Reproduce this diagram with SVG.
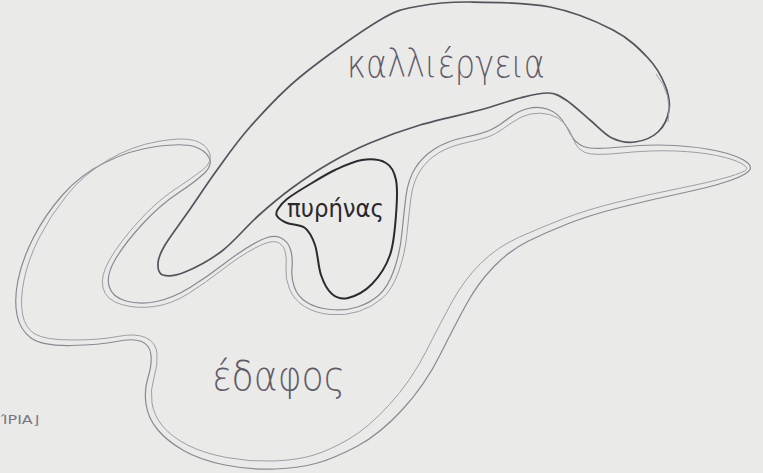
<svg xmlns="http://www.w3.org/2000/svg" width="763" height="473" viewBox="0 0 763 473">
<style>
.bg{fill:#eaeae8}
.soil{fill:none;stroke:#8c8892;stroke-width:1.2;stroke-linejoin:round}
.soil2{fill:none;stroke:#a19da6;stroke-width:1;stroke-linejoin:round}
.cult{fill:none;stroke:#57525c;stroke-width:1.7;stroke-linejoin:round}
.nuc{fill:none;stroke:#2c292f;stroke-width:2;stroke-linejoin:round}
.lbl{font-family:"DejaVu Sans","Liberation Sans",sans-serif;font-weight:200;fill:#615b68}
.nlbl{font-family:"DejaVu Sans","Liberation Sans",sans-serif;fill:#2a282c}
.hand{font-family:"DejaVu Sans","Liberation Sans",sans-serif;fill:#7a7680}
</style>
<rect class="bg" x="0" y="0" width="763" height="473"/>
<g id="soil">
<path class="soil" d="M194,146.5 Q183,143 156.5,146.5 Q130,150 105,162.5 Q80,175 62.5,195 Q45,215 33.5,237.5 Q22,260 18,280 Q14,300 17,315 Q20,330 31,338 Q42,346 71,345.5 Q100,345 116.5,341.5 Q133,338 141.5,341.5 Q150,345 151,355 Q152,365 148,377.5 Q144,390 146,404 Q148,418 157.5,429.5 Q167,441 183.5,450.5 Q200,460 225,465 Q250,470 275,469 Q300,468 317.5,463 Q335,458 357.5,446 Q380,434 402.5,409.5 Q425,385 440,355 Q455,325 466.5,304 Q478,283 494,266.5 Q510,250 528.5,241 Q547,232 568.5,223.5 Q590,215 620,207.5 Q650,200 682.5,193 Q715,186 731.5,180 Q748,174 750,169.5 Q752,165 743.5,160 Q735,155 717.5,151 Q700,147 675,145.5 Q650,144 621,147 Q592,150 583.5,146.5 Q575,143 570.5,134 Q566,125 561,118.5 Q556,112 547,109 Q538,106 528,108.5 Q518,111 509,118 Q500,125 492.5,129 Q485,133 466,137 Q447,141 434.5,149 Q422,157 415,168.5 Q408,180 406,196 Q404,212 402,232.5 Q400,253 394,270 Q388,287 379,295 Q370,303 357.5,307 Q345,311 330.5,309.5 Q316,308 307,302.5 Q298,297 294.5,287.5 Q291,278 292,268 Q293,258 290.5,249.5 Q288,241 280,237.5 Q272,234 257,242 Q242,250 224.5,263.5 Q207,277 190,287.5 Q173,298 156.5,301.5 Q140,305 126,301 Q112,297 109,286 Q106,275 115.5,259 Q125,243 142.5,224 Q160,205 177.5,193.5 Q195,182 204,173.5 Q213,165 209,157.5 Q205,150 194,146.5 Z"/>
<path class="soil2" d="M194.5,140.5 Q183,137 157.5,141.5 Q132,146 108,160 Q84,174 67,195 Q50,216 39,238 Q28,260 24,280 Q20,300 22.5,314 Q25,328 35,334 Q45,340 72.5,340 Q100,340 117.5,336.5 Q135,333 145.5,337.5 Q156,342 157,353.5 Q158,365 154,377.5 Q150,390 152,403 Q154,416 163,426.5 Q172,437 187.5,445 Q203,453 226.5,457.5 Q250,462 274,461 Q298,460 314,455 Q330,450 349,439 Q368,428 389.5,404.5 Q411,381 426,351.5 Q441,322 452.5,301 Q464,280 480.5,263.5 Q497,247 519.5,237 Q542,227 564,218.5 Q586,210 616,202.5 Q646,195 678.5,188.5 Q711,182 728,177 Q745,172 746.5,169.5 Q748,167 740.5,163 Q733,159 716.5,155.5 Q700,152 675.5,151 Q651,150 622,153 Q593,156 585,152.5 Q577,149 573.5,139.5 Q570,130 564.5,123.5 Q559,117 549.5,114.5 Q540,112 530.5,114 Q521,116 512,122.5 Q503,129 495.5,133.5 Q488,138 469,142 Q450,146 438.5,153 Q427,160 420,171 Q413,182 411,197.5 Q409,213 407,233.5 Q405,254 398.5,272 Q392,290 382,298.5 Q372,307 358.5,311.5 Q345,316 330,314.5 Q315,313 304.5,306.5 Q294,300 289.5,289 Q285,278 286,268 Q287,258 285,251 Q283,244 276.5,242 Q270,240 255,248 Q240,256 222.5,269.5 Q205,283 188.5,293.5 Q172,304 154.5,306.5 Q137,309 121.5,304.5 Q106,300 103,288 Q100,276 110,259 Q120,242 138,222 Q156,202 174,190 Q192,178 202.5,170 Q213,162 209.5,153 Q206,144 194.5,140.5 Z"/>
<text class="lbl" x="212" y="390" font-size="40" textLength="133" lengthAdjust="spacingAndGlyphs">έδαφος</text>
</g>
<g id="culture">
<path class="cult" d="M163,275 C167.5,276.5 175.2,276 185,272 C194.8,268 209.8,260.3 222,251 C234.2,241.7 246.3,226.5 258,216 C269.7,205.5 280,196.8 292,188 C304,179.2 317,170.5 330,163 C343,155.5 355,149.3 370,143 C385,136.7 401.7,130.5 420,125 C438.3,119.5 463.3,114.5 480,110 C496.7,105.5 508.7,100.8 520,98 C531.3,95.2 540.3,92.7 548,93 C555.7,93.3 559,95.5 566,100 C573,104.5 582.3,113.7 590,120 C597.7,126.3 604.5,134.3 612,138 C619.5,141.7 627.3,143 635,142 C642.7,141 652.3,137.3 658,132 C663.7,126.7 667.8,117.8 669,110 C670.2,102.2 668.5,93.7 665,85 C661.5,76.3 656.7,67.2 648,58 C639.3,48.8 629.3,38.5 613,30 C596.7,21.5 573.8,11.7 550,7 C526.2,2.3 491.7,2.2 470,2 C448.3,1.8 435,3 420,6 C405,9 400,8.2 380,20 C360,31.8 321.7,59.2 300,77 C278.3,94.8 263.8,111.5 250,127 C236.2,142.5 227.3,155.8 217,170 C206.7,184.2 196.7,199.5 188,212 C179.3,224.5 170,236.5 165,245 C160,253.5 158.3,258 158,263 C157.7,268 158.5,273.5 163,275 Z"/>
<path class="soil2" d="M656,74 Q673,94 668,122"/>
<text class="lbl" x="347" y="77" font-size="39" textLength="198" lengthAdjust="spacingAndGlyphs">καλλιέργεια</text>
</g>
<g id="nucleus">
<path class="nuc" d="M278,209 C279.7,206.2 282.2,202.8 287,199 C291.8,195.2 299,190.8 307,186 C315,181.2 325.8,174.3 335,170 C344.2,165.7 353.5,161.2 362,160 C370.5,158.8 380.3,159.7 386,163 C391.7,166.3 394.3,171.3 396,180 C397.7,188.7 397,202.5 396,215 C395,227.5 394,243.5 390,255 C386,266.5 379,276.8 372,284 C365,291.2 354.7,296.3 348,298 C341.3,299.7 336.5,297.8 332,294 C327.5,290.2 323.8,283.2 321,275 C318.2,266.8 317.7,252.8 315,245 C312.3,237.2 309.7,231.7 305,228 C300.3,224.3 291.7,225 287,223 C282.3,221 278.5,218.3 277,216 C275.5,213.7 276.5,211.3 278,209 Z"/>
<text class="nlbl" x="287" y="217" font-size="25" textLength="97" lengthAdjust="spacingAndGlyphs">πυρήνας</text>
</g>
<text class="hand" x="1" y="424" font-size="12" textLength="38" lengthAdjust="spacingAndGlyphs">ΊΡΙΑ⌋</text>
</svg>
